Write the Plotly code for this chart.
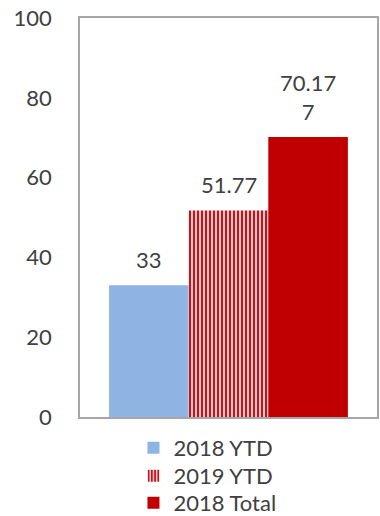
import plotly.graph_objects as go

category = ["Total"]
series_names = ["2018 YTD", "2019 YTD", "2018 Total"]
series_values = [33, 51.77, 70.177]
value_labels = ["33", "51.77", "70.17<br>7"]
y_ticks = [0, 20, 40, 60, 80, 100]

FONT = "Lato"
TXT = "#404040"
BARGAP = 0.196
n = len(series_names)
bw = (1 - BARGAP) / n
legend_ids = ["legend", "legend2", "legend3"]
legend_y = [-0.0777, -0.1479, -0.2155]

fig = go.Figure()
styles = [
    dict(color="#8DB4E2"),
    dict(color="#F6B6B6", pattern=dict(shape="|", fgcolor="#C8101A", bgcolor="#F9C9C9", size=4, solidity=0.5, fillmode="replace")),
    dict(color="#C00000"),
]
for i, (name, val, lab, st) in enumerate(zip(series_names, series_values, value_labels, styles)):
    fig.add_trace(go.Bar(
        x=category, y=[val], name=name, legend=legend_ids[i],
        marker=dict(line=dict(width=0), **st),
    ))
    fig.add_annotation(
        x=(i - (n - 1) / 2) * bw, y=val, xref="x", yref="y",
        text=lab, showarrow=False, yanchor="bottom", yshift=10,
        font=dict(size=22, color=TXT, family=FONT),
    )

leg_common = dict(orientation="v", x=0.18, xanchor="left", yanchor="middle",
                  font=dict(size=22, color=TXT), itemwidth=30,
                  bgcolor="rgba(0,0,0,0)")
fig.update_layout(
    width=380, height=516, margin=dict(l=80, r=3, t=18, b=99, autoexpand=False),
    paper_bgcolor="white", plot_bgcolor="white",
    barmode="group", bargap=BARGAP, bargroupgap=0,
    font=dict(family=FONT, size=22, color=TXT),
    showlegend=True,
    legend=dict(y=legend_y[0], **leg_common),
    legend2=dict(y=legend_y[1], **leg_common),
    legend3=dict(y=legend_y[2], **leg_common),
)
fig.update_xaxes(showticklabels=False, showline=True, linecolor="#A6A6A6", linewidth=1.5,
                 mirror=True, showgrid=False, ticks="")
fig.update_yaxes(range=[0, 100], tickvals=y_ticks, showline=True, linecolor="#A6A6A6",
                 linewidth=1.5, mirror=True, showgrid=False, ticks="", ticklabelstandoff=22,
                 zeroline=False)
fig.write_html("out.html")
